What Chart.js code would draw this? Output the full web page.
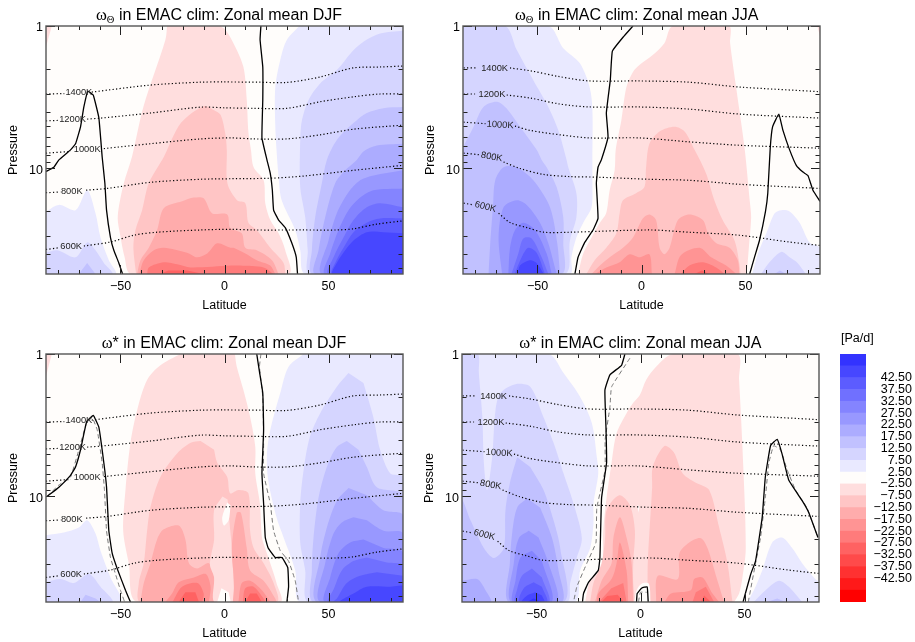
<!DOCTYPE html>
<html><head><meta charset="utf-8">
<script src="https://cdn.jsdelivr.net/npm/chart.js@4"></script>
<style>html,body{margin:0;padding:0;background:#fff}canvas{position:absolute}</style>
</head><body>
<canvas id="c1" width="420" height="322" style="left:0;top:0"></canvas>
<canvas id="c2" width="420" height="322" style="left:417px;top:0"></canvas>
<canvas id="c3" width="420" height="322" style="left:0;top:328px"></canvas>
<canvas id="c4" width="420" height="322" style="left:416px;top:328px"></canvas>
<canvas id="bar" width="85" height="322" style="left:830px;top:328px"></canvas>
<script>
// ---------- axes ----------
const latMin = -85.8, latMax = 85.8, pTop = 1, pBottom = 55;
const latTicks = [-80,-70,-60,-50,-40,-30,-20,-10,0,10,20,30,40,50,60,70,80];
const latMajor = [-50,0,50];
const pTicks = [1,2,3,4,5,6,7,8,9,10,20,30,40,50];
const pMajor = [1,10];
// ---------- colour levels ----------
const levelValues = [-50,-45,-40,-35,-30,-25,-20,-15,-10,-5,0,5,10,15,20,25,30,35,40,45,50];
const levelColours = ['#ff0000','#ff1919','#ff3131','#ff4a4a','#ff6262','#ff7b7b','#ff9494','#ffacac','#ffc5c5','#ffdede','#fffdfb',
 '#e9e9ff','#d5d5ff','#c1c1ff','#acacff','#9898ff','#8484ff','#7070ff','#5c5cff','#4747ff','#3333ff'];
const barTickValues = [42.5,37.5,32.5,27.5,22.5,17.5,12.5,7.5,2.5,-2.5,-7.5,-12.5,-17.5,-22.5,-27.5,-32.5,-37.5,-42.5];
// ---------- isentropes: [lat, pressure]; null pressure breaks the line at its label ----------
const isoDjf1400 = [[-85.8,3],[-77,2.98],[-70,null],[-63.8,2.91],[-35.9,2.6],[-11.8,2.48],[0,2.47],[17,2.48],[30,2.49],[45.9,2.28],[61.7,1.97],[74.7,1.94],[85.8,1.91]];
const isoDjf1200 = [[-85.8,4.63],[-80,4.6],[-73,null],[-66,4.5],[-59.6,4.43],[-35.6,4.08],[-11.5,3.71],[0,3.75],[14,3.78],[30,3.78],[46,3.4],[62,3.14],[74.8,3],[85.8,3]];
const isoDjf1000 = [[-85.8,7.8],[-74,7.6],[-66,null],[-58,7.25],[-35.6,6.7],[-11.5,6.2],[3,6.1],[14,6.2],[30,6.2],[46,5.8],[62,5.3],[85.8,4.96]];
const isoDjf800 = [[-85.8,14.8],[-79,14.6],[-73,null],[-66.5,14.2],[-56.4,13.8],[-35.6,12.5],[-11.5,11.9],[3,11.8],[22,11.7],[38,11.3],[62,10.3],[85.8,9.5]];
const isoDjf600 = [[-85.8,37],[-79.5,36],[-73.5,null],[-67.6,35],[-54.8,32.8],[-43.6,29.4],[-32.4,28],[-11.5,27],[3,26.7],[14,27],[38,27],[54,27],[62,26.5],[73,24.6],[85.8,23.3]];
const isoJja1400 = [[-85.5,1.97],[-79,1.97],[-70.6,null],[-63.2,1.97],[-53.6,2.06],[-39.2,2.27],[-24.9,2.43],[-1,2.43],[23,2.48],[47,2.68],[85.8,2.89]];
const isoJja1200 = [[-85.5,3],[-80,3],[-71.9,null],[-64.8,3.05],[-53.6,3.2],[-39.2,3.53],[-24.9,3.7],[-1,3.7],[23,3.83],[47,4.15],[85.8,4.43]];
const isoJja1000 = [[-85.5,4.73],[-75,4.85],[-68,null],[-60.8,5.04],[-53.6,5.4],[-39.2,5.8],[-24.9,6.1],[-1,6.1],[23,6.5],[47,6.87],[85.8,7.2]];
const isoJja800 = [[-85.5,7.8],[-78,8],[-72,null],[-66.3,9],[-58.4,10],[-47.2,11],[-34.4,11.4],[-21.7,11.5],[3.8,11.9],[23,12.1],[47,12.9],[85.8,13.8]];
const isoJja600 = [[-85.5,17.5],[-81,18],[-75,null],[-68.7,20.6],[-63,24],[-55,26],[-47,28],[-34.4,28],[3.8,27],[23,28],[47,29.4],[71,32.8],[85.8,34.7]];
const isoDjfList = [isoDjf1400,isoDjf1200,isoDjf1000,isoDjf800,isoDjf600];
const isoJjaList = [isoJja1400,isoJja1200,isoJja1000,isoJja800,isoJja600];
// [text, lat, pressure, angle in degrees]
const isoDjfLabels = [['1400K',-70,2.92,0],['1200K',-73,4.5,0],['1000K',-66,7.3,0],['800K',-73.4,14.4,0],['600K',-73.7,35.5,0]];
const isoJjaLabels = [['1400K',-70.6,1.97,0],['1200K',-71.9,3,0],['1000K',-68,4.95,3],['800K',-72,8.3,10],['600K',-75,18.6,14]];
// ---------- panel 1: omega-theta DJF, contour bands [level, [[lat,p]...]] ----------
const thetaDjfBands = [
[0,[[-85.8,1],[85.8,1],[85.8,55],[-85.8,55]]],
[-5,[[-85.8,1],[-83,1],[-85.8,1.4]]],
[-5,[[-27.6,1],[-28.4,1.25],[-39,3.7],[-44.5,8.3],[-48.4,12.7],[-51.3,21.6],[-50,30],[-48,42],[-45,55],[30.8,55],[29.2,37.5],[26,28.5],[22,23],[19.6,17.5],[18.8,12.1],[14,9.8],[12.7,7.4],[11.5,5.6],[10.7,3.3],[9.1,1.94],[4.3,1.32],[0.3,1.06],[-2,1]]],
[-10,[[-42.5,55],[-43.8,36],[-42.8,27],[-39.6,19.6],[-36.4,12.7],[-29,8.2],[-21,4.8],[-10,3.65],[-5,3.9],[-1.9,4.2],[0.3,5.6],[1.1,7.4],[1.4,12.7],[6,16.7],[10,17.5],[11.5,24],[15.5,27],[22,36],[28.4,46],[29.2,55]]],
[-15,[[-42,55],[-40.4,44],[-36.4,36],[-32.4,27],[-29.2,19],[-20.4,17],[-14.7,16],[-10,16.2],[-6,20.6],[1.3,21],[2.7,26],[8.3,28.5],[10,36],[15.5,37.5],[22.8,44],[26,55]]],
[-20,[[-41,55],[-38.8,44],[-34,37.5],[-29.2,36],[-18,39],[-13.2,42],[-8.3,39.5],[-3.5,33.5],[2.9,36],[4.3,36],[10,39.5],[15.5,44],[22,48],[24.4,55]]],
[-25,[[-37.2,55],[-36.4,49.5],[-29.2,45.5],[-22.8,47],[-16.3,49.5],[3,48],[7.5,48],[18.8,49.5],[23.5,55]]],
[-30,[[-31,55],[-27,52],[-18,52],[-10,55]]],
[5,[[-85.8,20],[-79.6,18],[-71.6,19.6],[-66,14.2],[-62,20.6],[-59.6,30.5],[-55.6,44],[-52.4,55],[-85.8,55]]],
[10,[[-85.8,39],[-80.4,37.5],[-71.6,42],[-66,33],[-62,37.5],[-58,46],[-54,55],[-85.8,55]]],
[15,[[-70,55],[-66,46],[-62,55]]],
[5,[[36,1],[30,1.25],[26.8,1.73],[24.4,2.7],[24.4,5],[25,7.4],[26,11.5],[27.5,16.7],[34,27],[36.4,37.5],[38.8,55],[85.8,55],[85.8,1]]],
[10,[[85.8,1.08],[74.8,1.13],[66.8,1.29],[61.2,1.52],[54,2.04],[46,2.53],[40.4,3.3],[37.2,4.6],[36.4,6.3],[36.4,13.5],[38.8,22],[40,37.5],[40.9,55],[85.8,55]]],
[15,[[85.8,3.7],[76.4,3.77],[68.4,4.08],[62,4.8],[54,6.3],[49.2,8.7],[46.8,12.7],[43.6,22],[42,37.5],[42.3,55],[85.8,55]]],
[20,[[85.8,6.7],[73.2,6.9],[66.8,7.6],[63.6,8.7],[58,10.3],[53.2,12.7],[48.4,22],[45.2,37.5],[43.6,55],[85.8,55]]],
[25,[[85.8,10.3],[71.6,11.2],[65.2,12.1],[59.6,14.7],[54,20.6],[50,32],[46.8,55],[85.8,55]]],
[30,[[85.8,13.8],[71.6,14.2],[65.2,16],[59.6,19.6],[54.8,27],[50.8,39.5],[48.4,55],[85.8,55]]],
[35,[[85.8,18.7],[74.8,17.5],[68.4,18.7],[62,23],[57.2,30.5],[52.4,42],[50,55],[85.8,55]]],
[40,[[85.8,22.4],[74.8,22.4],[68.4,24],[62,28],[57.2,36],[53.2,46],[51.6,55],[85.8,55]]],
[45,[[85.8,28.5],[76.4,28],[68.4,28],[62,32],[58,37.5],[54,46],[52,55],[85.8,55]]]
];
const thetaDjfZero = [
[[-85.8,10.5],[-82,9.8],[-79.6,8.7],[-74,7.4],[-71.6,6.7],[-69.2,5.1],[-67.6,3.7],[-65.7,2.86],[-63.1,3.05],[-60.4,4.4],[-58.8,8.3],[-57.5,12.7],[-56.7,19.6],[-54.8,30.5],[-53.2,37.5],[-50.8,46],[-49,55]],
[[17.5,1],[17.1,1.25],[18.4,1.94],[18.4,3.3],[18,6.1],[20.4,8.7],[22,10.8],[23,14.2],[23.6,19.6],[26,23],[29.2,26],[32.4,33.5],[34.5,42],[35.1,55]]
];
// ---------- panel 2: omega-theta JJA ----------
const thetaJjaBands = [
[0,[[-85.8,1],[85.8,1],[85.8,55],[-85.8,55]]],
[-5,[[84.5,1],[85.8,1],[85.8,1.18]]],
[5,[[-85.8,1],[-44.8,1],[-37.6,1.43],[-29.7,1.82],[-24.9,2.7],[-23.6,3.9],[-23.6,8.7],[-23.6,12.7],[-24,18.7],[-28,24],[-31.3,30.5],[-33.7,42],[-34.4,55],[-85.8,55]]],
[10,[[-85.8,1],[-65.5,1],[-60,1.47],[-52,2.4],[-44.8,3.7],[-40,5.4],[-36,8.7],[-35.2,9.8],[-31.3,14.9],[-31.3,22],[-34.4,32],[-36.8,55],[-85.8,55]]],
[15,[[-85.8,7.1],[-80.7,5.1],[-76,3.7],[-69.5,3.4],[-64.8,3.8],[-58.4,5.1],[-50.4,7.4],[-48,8.7],[-45.6,9.8],[-40.8,13.5],[-37.6,22],[-37.6,33],[-38.5,55],[-85.8,55]]],
[20,[[-73.5,55],[-72.7,33.5],[-71.4,18.7],[-70.3,12.1],[-66.3,9.8],[-60,9.8],[-52,12.1],[-44,18.7],[-40.5,33.5],[-39.2,55]]],
[25,[[-67,55],[-68.7,30.5],[-66.3,18.7],[-60,16.7],[-55.2,18],[-48.8,24],[-44.8,33.5],[-40.8,55]]],
[30,[[-64,55],[-63.2,36],[-60.8,27],[-56.8,24],[-51.2,27],[-45.6,39.5],[-43.2,55]]],
[35,[[-62.5,55],[-59.2,39.5],[-56.8,31],[-52.8,31],[-48,42],[-44.8,55]]],
[40,[[-61,55],[-57.6,42],[-54.4,36],[-50.4,39],[-46.4,55]]],
[45,[[-59.5,55],[-58.4,48],[-53.6,44],[-50.4,46],[-47,55]]],
[-5,[[-30.5,55],[-28,39.5],[-24,30.5],[-20,24],[-17,20.6],[-15.3,14.2],[-12.9,10.3],[-12.4,7.4],[-9.7,4.6],[-7.3,2.7],[-4.1,2.1],[-1,1.88],[5.4,1.6],[11,1.32],[15,1],[42,1],[42.6,1.32],[45.5,2.7],[49.5,7.1],[52,16.7],[52.7,22],[51.6,36],[50.6,55]]],
[-10,[[-26.5,55],[-22.5,44],[-16.9,36],[-12.1,28.5],[-10.5,20.6],[-8.9,16.7],[-2.6,14.9],[1.4,13.5],[2.2,9.8],[3.8,6.7],[8.7,5.5],[15.9,5.1],[20.7,5.5],[25.5,7.4],[31,10.8],[35,16.7],[39,23],[44.7,32],[47,46],[47.6,55]]],
[-15,[[-24,55],[-20,48],[-15.3,42],[-8.9,36],[-4.1,30.5],[0.6,22.4],[3.8,21],[7,23],[8.7,36],[11,40],[13.5,36],[17.5,23],[23,21],[29.5,23],[32,28.5],[36,33.5],[42.3,36],[46.3,44],[47,55]]],
[-20,[[-22.5,55],[-16.9,49.5],[-10.5,45.5],[-5.7,40],[-1,42],[3.8,40],[5,55]]],
[-20,[[15.9,55],[19,40.5],[27.9,36],[33.5,42],[40.7,48],[45.5,55]]],
[-25,[[19,55],[23,48],[29.5,45.5],[35.9,49.5],[40,55]]],
[-30,[[25.5,55],[29,52],[32.7,55]]],
[5,[[53.2,55],[56,39.5],[60,28.5],[64,20.6],[67.2,19.6],[71.2,20],[76,24],[80.8,33],[85.8,36],[85.8,55]]],
[10,[[57.5,55],[61.5,45.5],[67.2,38.5],[71.2,42],[75,46],[79,55]]],
[15,[[64,55],[66.5,52],[69.5,55]]]
];
const thetaJjaZero = [
[[-4.1,1],[-8.9,1.2],[-14,1.5],[-15,2.4],[-16.9,4.08],[-16.1,6],[-19.3,8.7],[-20.9,9.8],[-21.7,12.7],[-20.9,22.4],[-23.3,27],[-27.3,33],[-30.5,42],[-32,55]],
[[52,55],[54.3,42],[56.7,32],[59.6,20],[60.7,14.9],[61.9,7.1],[63,5.1],[66,4.15],[68,5.4],[71.2,7.4],[74.4,9.5],[77.6,10.6],[80,11.2],[82.4,14.2],[85.8,17]]
];
// ---------- panel 3: omega-star DJF ----------
const starDjfBands = [
[0,[[-85.8,1],[85.8,1],[85.8,55],[-85.8,55]]],
[-5,[[-85.8,1],[-83,1],[-85.8,1.43]]],
[-5,[[-21.2,1],[-30.8,1.2],[-37.2,1.52],[-42,2.48],[-45.2,4.2],[-47.6,9],[-48.7,17.4],[-46,29.4],[-42,55],[26.8,55],[25,40.5],[22,29.4],[19.5,23],[18,19.4],[17,11.2],[14.8,6.9],[14.8,4.5],[12.3,2.76],[9.1,1.79],[5.9,1.23],[5,1]]],
[-10,[[-11.5,4.08],[-16.3,4.2],[-22.8,5],[-30.8,7.3],[-35.6,11.9],[-37.2,17.4],[-38.8,29.4],[-41.2,40.5],[-40.4,55],[25,55],[23.6,40.5],[18.8,29.4],[14,23],[12.3,17.4],[11.5,9.5],[6.7,9],[2.7,9.5],[1.3,7.3],[-3.5,5.8],[-5,4.7]]],
[-15,[[-40.4,55],[-38.8,40.5],[-35.6,29.4],[-32.4,20],[-29.2,17],[-22,16],[-18.8,20],[-17.1,29.4],[-13.2,32],[-7.5,29.4],[-5,37],[-5,55]]],
[-20,[[-28.4,55],[-25.2,48],[-22,40],[-14.7,37],[-9,35],[-6.7,43],[-7.5,55]]],
[-25,[[-25,55],[-20.4,43],[-13,40.5],[-10,48],[-10.7,55]]],
[-30,[[-22,55],[-18.8,47],[-14,47],[-12.3,55]]],
[-5,[[-1,10],[-5,12.5],[-5,20],[-7,30],[-5,37],[-5,55],[4,55],[4.3,40],[3.5,23],[2.7,17],[1.5,10.5]]],
[0,[[1.3,11],[-1.1,14],[-0.3,16],[2,14.7],[2.9,11.5]]],
[0,[[-3.5,55],[-1.5,44],[2,47],[3,55]]],
[-15,[[4,55],[4.6,40.5],[3.5,23],[5.9,13],[7.9,13],[10.7,23],[12.3,33],[18.8,39],[24.4,52],[25,55]]],
[-20,[[6.7,55],[8.3,40.5],[12.3,39],[18,45.5],[22,55]]],
[-25,[[8.8,55],[10,44],[14,43],[18.8,52],[19.6,55]]],
[-30,[[10,55],[12.3,48],[15.5,48],[18,55]]],
[5,[[-85.8,18.7],[-77.2,17.9],[-70,16.5],[-66,14.7],[-62,18.2],[-59.6,24],[-54.8,37],[-50,55],[-85.8,55]]],
[10,[[-85.8,40],[-78.8,38],[-72.4,40.5],[-65.2,35],[-59.6,43],[-54,55],[-85.8,55]]],
[15,[[-69.2,55],[-66.8,49],[-62,52],[-59.6,55]]],
[5,[[38,1],[30.8,1.23],[26.8,1.88],[22,3.42],[20.4,5],[21,7.7],[25,14],[28.4,19.4],[34,33],[36.4,55],[85.8,55],[85.8,1]]],
[10,[[59.6,1.36],[54,1.7],[46,2.6],[41,3.83],[38,6.56],[36.4,11.2],[36.4,21],[38.8,33],[40.4,55],[85.8,55],[85.8,7.3],[79.7,6.9],[74.8,4.7],[71.6,2.8],[66.8,1.6]]],
[15,[[58.8,4.08],[54,4.5],[49.2,6.2],[45.2,10.2],[42.8,19.4],[42,33],[42.8,55],[85.8,55],[85.8,9.8],[73.2,8.6],[68.4,6.2],[64.4,4.7]]],
[20,[[59.6,8.7],[54,10.7],[49.2,16.5],[46,26.8],[44.4,55],[85.8,55],[85.8,13.6],[76.4,12.5],[68.4,9.8]]],
[25,[[62,14],[56.4,15.2],[52.4,18.2],[48.4,29.4],[46,55],[85.8,55],[85.8,18.2],[76.4,17.4],[68.4,14.7]]],
[30,[[66.8,20],[60.4,21],[54.8,25],[50.8,37],[48.4,55],[85.8,55],[85.8,24.7],[76.4,23]]],
[35,[[68.4,26.8],[62,28.4],[56.4,33],[52.4,45],[50,55],[85.8,55],[85.8,30.5],[78,29]]],
[40,[[73.2,34],[65.2,36],[58.8,40.5],[54,52],[52.4,55],[85.8,55],[85.8,36]]],
[45,[[79.7,43],[68.4,43],[62,48],[55.6,55],[85.8,55],[85.8,42]]]
];
const starDjfZero = [
[[-85.3,10],[-79.6,8.6],[-74,7.1],[-71.6,6.2],[-69.2,4.7],[-66.3,3],[-63.1,2.7],[-60.4,3.26],[-58,5.8],[-56.7,8.6],[-55.6,17.4],[-54,25],[-51.6,32],[-47.6,45.5],[-45.2,55]],
[[15.5,1],[16.8,1.33],[18.4,1.88],[18.8,3.42],[18,6.9],[18.8,11.2],[19.6,19.4],[21,23],[24.4,26.8],[27.6,26.8],[30.4,31.5],[30.8,43],[30,55]]
];
const starDjfDash = [
[[-85.3,10],[-79.6,8.3],[-74,7.3],[-70,4.7],[-66.3,3.05],[-63.6,2.8],[-61.2,3.4],[-58.8,5.8],[-57.7,9],[-56.7,17.4],[-54.8,26.8],[-52.4,35],[-50,45.5],[-48,55]],
[[17.5,1],[16.8,1.23],[18.4,2],[18.8,4],[18.8,6.9],[22,11.2],[23.6,17.4],[26.8,24],[30.8,28.4],[34,39],[35.6,55]]
];
// ---------- panel 4: omega-star JJA ----------
const starJjaBands = [
[0,[[-85.8,1],[85.8,1],[85.8,55],[-85.8,55]]],
[5,[[-85.8,1],[-44.2,1],[-37,1.36],[-29,2],[-23.4,3.05],[-21,5.3],[-20.3,6.9],[-22.6,11.2],[-22.6,15.4],[-24.2,23],[-29,33],[-31.9,55],[-85.8,55]]],
[10,[[-85.8,1],[-78.2,1],[-77.7,1.36],[-76,2.8],[-75.3,5.8],[-73.7,9],[-71.3,5.3],[-69.7,2.48],[-67.3,1.88],[-60.1,1.63],[-53,1.7],[-47.4,2.6],[-41.8,4.2],[-37,6.9],[-32.2,11.2],[-28.2,19.6],[-30.6,26.8],[-33.8,40.5],[-35.4,55],[-85.8,55]]],
[15,[[-59.3,5.3],[-62.5,7.7],[-64.9,12.5],[-65.7,23],[-70.5,27],[-75.3,23],[-81.7,14.7],[-85.8,10.7],[-85.8,55],[-37,55],[-38.6,23],[-41.8,14.7],[-46.6,9],[-53,6.2]]],
[20,[[-54.5,10.3],[-59.3,12],[-61.7,18.2],[-62.8,29.4],[-63.3,55],[-37.8,55],[-39.4,33],[-42.6,19.4],[-48.2,12]]],
[20,[[-85.8,39],[-78.5,38],[-74.5,45.5],[-72,55],[-85.8,55]]],
[25,[[-53.7,17.4],[-58.5,19.6],[-60.9,29.4],[-62.2,55],[-40.2,55],[-44.2,29.4],[-49,19.4]]],
[30,[[-52.2,24],[-57.7,26.8],[-60.1,39],[-61.2,55],[-42.6,55],[-47.4,28.4]]],
[35,[[-52.2,32],[-57,36],[-59.3,45],[-60.1,55],[-44,55],[-47.4,37]]],
[40,[[-51.4,40],[-56.1,44],[-58.2,55],[-45,55],[-47.4,43]]],
[45,[[-50.6,47],[-54.5,49.5],[-57,55],[-46.3,55],[-47.4,49.5]]],
[50,[[-51.4,52],[-54.5,55],[-47.4,55]]],
[-5,[[-26.6,55],[-24.2,39],[-18.7,31.5],[-17.9,17.4],[-16.3,10.2],[-13.9,5.8],[-11.5,3.6],[-6.7,2.6],[-3.5,2.2],[-0.3,1.94],[2.7,1.52],[7.5,1.23],[15.5,1],[46.6,1],[47.4,1.52],[49,4.5],[50.6,23],[49,37],[47.4,48],[45,55]]],
[-10,[[-24.2,55],[-22.6,40.5],[-18.7,29.4],[-17,19.4],[-16.3,12.5],[-10.2,9.8],[-5.1,11.5],[-2.7,17.4],[-3.5,29.4],[-3.5,40.5],[-2.7,55]]],
[-15,[[-21.9,55],[-18.7,39],[-13.9,29.4],[-13,19.4],[-9.9,14],[-6.7,19.4],[-4.3,29.4],[-3.5,55]]],
[-20,[[-21,55],[-20.3,48],[-13.9,38],[-11.5,29.4],[-9.9,21],[-6.7,33],[-5.9,55]]],
[-25,[[-20,55],[-14,44],[-8.3,40.5],[-6.7,55]]],
[-30,[[-19,55],[-16,50],[-11,49],[-8,55]]],
[0,[[-1.5,11.5],[-1,13],[-0.5,11.7]]],
[-10,[[3.5,55],[3.5,29.4],[5.6,8.6],[5.9,6.2],[11.5,4.43],[16,4.9],[20.3,6.9],[26.6,8],[33,9],[37.8,16.5],[41.8,29.4],[44.2,55]]],
[-15,[[7.5,55],[8.3,36],[17.9,38],[18.7,25],[23.4,21],[29,19.6],[32.2,23],[37,39],[40.2,55]]],
[-20,[[11.5,55],[14.7,48],[24.2,45.5],[25.8,38],[29.8,37],[34.6,48],[37.8,55]]],
[-25,[[25,55],[26.6,47],[31.4,43],[35.4,55]]],
[-30,[[29,55],[30.6,49.5],[33.8,55]]],
[0,[[-3,55],[-2,46],[0.5,41],[4,41],[4.8,55]]],
[5,[[51.4,55],[54.5,45.5],[58.5,33],[63.3,21],[68,19.4],[72.9,23],[77.7,29.4],[84,38],[85.8,40],[85.8,55]]],
[10,[[54.5,55],[60.1,45.5],[66.5,39],[71.3,43],[77.7,55]]],
[15,[[60.9,55],[65.7,52],[69.7,55]]]
];
const starJjaZero = [
[[-7.5,1],[-9.1,1.2],[-14.7,1.4],[-17.1,1.79],[-16.6,3.26],[-16.3,5.8],[-18.7,10.2],[-19.5,26.8],[-20.3,33],[-25,40],[-27.4,48],[-27.9,55]],
[[49.3,55],[53,35],[55.3,28.4],[58.5,14],[60,7.3],[62.5,4.4],[65.7,3.97],[68,5],[71.3,7.7],[77.7,10.7],[80.9,13],[85.3,19.4]],
[[-1.9,55],[-1.6,48],[0.5,44],[3.2,43],[3.7,55]]
];
const starJjaDash = [
[[-5.1,1.07],[-13.9,1.7],[-14.7,2.36],[-17,4],[-17,6.5],[-21,12],[-21.4,21],[-25.8,29.4],[-30.6,43],[-32.2,55]],
[[51.8,55],[55.3,29.4],[57.7,19.4],[60,10.2],[61.7,5.8],[64,4.4],[67.3,4.7],[70.5,6.5],[74.5,9],[80,12],[85.3,19.4]],
[[-1,55],[0,47],[3,47]]
];
// ---------- build ----------
const colourOf = v => levelColours[levelValues.indexOf(v)];
const toXY = pts => pts.map(([x,y]) => ({x,y}));
function panel(id, head, bands, zero, dash, isoList, isoLabels){
  const ds = [];
  bands.forEach(([lev,pts]) => ds.push({data:toXY(pts),showLine:true,fill:'shape',tension:pts.length>4?0.3:0,pointRadius:0,borderWidth:0,
    borderColor:colourOf(lev),backgroundColor:colourOf(lev)}));
  isoList.forEach(l => ds.push({data:toXY(l),showLine:true,fill:false,tension:0.3,pointRadius:0,borderWidth:1.2,borderColor:'#000',borderDash:[1.2,2.3],spanGaps:false}));
  dash.forEach(l => ds.push({data:toXY(l),showLine:true,fill:false,tension:0.1,pointRadius:0,borderWidth:1,borderColor:'#777',borderDash:[4.5,3]}));
  zero.forEach(l => ds.push({data:toXY(l),showLine:true,fill:false,tension:0.1,pointRadius:0,borderWidth:1.3,borderColor:'#000'}));
  ds.forEach((d,i) => d.order = ds.length - i);
  const decor = {id:'decor',afterDatasetsDraw(ch){
    const c = ch.ctx, a = ch.chartArea, xs = ch.scales.x, ys = ch.scales.y;
    c.save();
    c.fillStyle = '#222'; c.font = '9.3px "Liberation Sans"'; c.textAlign='center'; c.textBaseline='middle';
    isoLabels.forEach(([t,la,p,ang]) => { c.save(); c.translate(xs.getPixelForValue(la),ys.getPixelForValue(p)); c.rotate(ang*Math.PI/180); c.fillText(t,0,0); c.restore(); });
    c.strokeStyle='#222'; c.lineWidth=1; c.beginPath();
    latTicks.forEach(v => { const x=Math.round(xs.getPixelForValue(v))+.5, l=latMajor.includes(v)?9:4;
      c.moveTo(x,a.bottom); c.lineTo(x,a.bottom-l); c.moveTo(x,a.top); c.lineTo(x,a.top+l); });
    pTicks.forEach(v => { const y=Math.round(ys.getPixelForValue(v))+.5, l=pMajor.includes(v)?9:4.5;
      c.moveTo(a.left,y); c.lineTo(a.left+l,y); c.moveTo(a.right,y); c.lineTo(a.right-l,y); });
    c.stroke();
    c.strokeStyle='#555'; c.lineWidth=1.4; c.strokeRect(a.left,a.top,a.right-a.left,a.bottom-a.top);
    c.fillStyle='#000'; c.textBaseline='alphabetic'; c.textAlign='left';
    let x = head.x, y = 20;
    c.font='16.5px "Liberation Serif"'; c.fillText('ω',x,y); x+=c.measureText('ω').width;
    if(head.sub){ c.font='10.5px "Liberation Serif"'; c.fillText(head.sub,x,y+3); x+=c.measureText(head.sub).width; }
    c.font='16px "Liberation Sans"'; c.fillText(head.rest,x,y);
    c.restore();
  }};
  return new Chart(document.getElementById(id),{type:'scatter',data:{datasets:ds},plugins:[decor],options:{
    responsive:false,animation:false,devicePixelRatio:1,
    layout:{autoPadding:false,padding:{left:0,right:17,top:26,bottom:0}},
    plugins:{legend:{display:false},tooltip:{enabled:false},title:{display:false}},
    scales:{
      x:{type:'linear',min:latMin,max:latMax,afterFit(s){s.height=48},
        afterBuildTicks(s){s.ticks=latTicks.map(value=>({value}))},
        grid:{display:false,drawTicks:false},border:{display:false},
        title:{display:true,text:'Latitude',color:'#000',font:{family:'"Liberation Sans"',size:12.5},padding:{top:0,bottom:9}},
        ticks:{autoSkip:false,maxRotation:0,color:'#000',font:{family:'"Liberation Sans"',size:12.5},padding:5,
          callback:v=>latMajor.includes(v)?String(v).replace('-','−'):''}},
      y:{type:'logarithmic',reverse:true,min:pTop,max:pBottom,afterFit(s){s.width=46},
        afterBuildTicks(s){s.ticks=pTicks.map(value=>({value}))},
        grid:{display:false,drawTicks:false},border:{display:false},
        title:{display:true,text:'Pressure',color:'#000',font:{family:'"Liberation Sans"',size:12.5},padding:{top:6.5,bottom:0}},
        ticks:{autoSkip:false,color:'#000',font:{family:'"Liberation Sans"',size:12.5},padding:3,labelOffset:2,
          callback:v=>pMajor.includes(v)?String(v):''}}
    }}});
}
panel('c1',{x:96,sub:'Θ',rest:' in EMAC clim: Zonal mean DJF'},thetaDjfBands,thetaDjfZero,[],isoDjfList,isoDjfLabels);
panel('c2',{x:98,sub:'Θ',rest:' in EMAC clim: Zonal mean JJA'},thetaJjaBands,thetaJjaZero,[],isoJjaList,isoJjaLabels);
panel('c3',{x:101.7,sub:'',rest:'* in EMAC clim: Zonal mean DJF'},starDjfBands,starDjfZero,starDjfDash,isoDjfList,isoDjfLabels);
panel('c4',{x:103.3,sub:'',rest:'* in EMAC clim: Zonal mean JJA'},starJjaBands,starJjaZero,starJjaDash,isoJjaList,isoJjaLabels);
// colour bar
const barDecor = {id:'barDecor',afterDraw(ch){const c=ch.ctx;c.save();c.fillStyle='#000';c.font='12.5px "Liberation Sans"';c.fillText('[Pa/d]',11,14);c.restore();}};
new Chart(document.getElementById('bar'),{type:'bar',
  data:{labels:['levels'],datasets:levelValues.map((v,i)=>({data:[[v-2.5,v+2.5]],backgroundColor:levelColours[i],borderWidth:0,barPercentage:1,categoryPercentage:1}))},
  plugins:[barDecor],
  options:{responsive:false,animation:false,devicePixelRatio:1,
    layout:{autoPadding:false,padding:{left:10,right:3,top:26,bottom:48}},
    datasets:{bar:{grouped:false}},
    plugins:{legend:{display:false},tooltip:{enabled:false}},
    scales:{x:{display:false},
      y:{position:'right',min:-52.5,max:52.5,afterFit(s){s.width=46},
        afterBuildTicks(s){s.ticks=barTickValues.map(value=>({value}))},
        grid:{display:false},border:{display:false},
        ticks:{autoSkip:false,color:'#000',crossAlign:'far',font:{family:'"Liberation Sans"',size:12.5},padding:2,
          callback:v=>v.toFixed(2).replace('-','−')}}}}});
</script>
</body></html>
